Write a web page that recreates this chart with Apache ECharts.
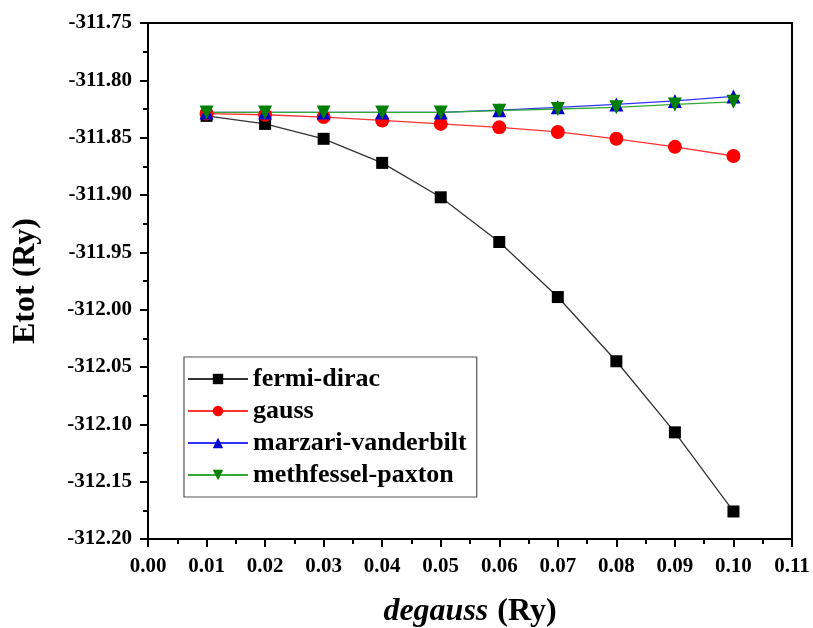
<!DOCTYPE html>
<html><head><meta charset="utf-8">
<script src="https://cdn.jsdelivr.net/npm/echarts@6/dist/echarts.min.js"></script>
<style>html,body{margin:0;padding:0;background:#fff}#c{width:813px;height:628px}</style>
</head><body><div id="c"></div>
<script>
const degauss = [0.01,0.02,0.03,0.04,0.05,0.06,0.07,0.08,0.09,0.10];
const fermiDirac = [-311.831,-311.838,-311.851,-311.872,-311.902,-311.941,-311.989,-312.045,-312.107,-312.176];
const gauss = [-311.829,-311.830,-311.832,-311.835,-311.838,-311.841,-311.845,-311.851,-311.858,-311.866];
const marzariVanderbilt = [-311.828,-311.828,-311.828,-311.828,-311.828,-311.826,-311.8235,-311.821,-311.818,-311.814];
const methfesselPaxton = [-311.828,-311.828,-311.828,-311.828,-311.828,-311.8265,-311.825,-311.8235,-311.821,-311.8187];
const seriesNames = ['fermi-dirac','gauss','marzari-vanderbilt','methfessel-paxton'];

const font = 'Liberation Serif';
const pair = a => degauss.map((x,i)=>[x,a[i]]);
const chart = echarts.init(document.getElementById('c'));
const axisLine = {show:true,onZero:false,lineStyle:{color:'#000',width:2}};
chart.setOption({
  animation:false,
  backgroundColor:'#fff',
  grid:{left:148,right:21,top:23,bottom:89,containLabel:false,outerBoundsMode:'none'},
  legend:{
    orient:'vertical', left:184, top:357,
    data:seriesNames,
    itemWidth:60, itemHeight:13, itemGap:6,
    padding:[9,10,9,3],
    borderColor:'#555', borderWidth:1.2,
    textStyle:{fontFamily:font,fontWeight:'bold',fontSize:26,color:'#000'}
  },
  xAxis:[{
    type:'value', min:0, max:0.11, interval:0.01,
    name:'{i|degauss}{n|(Ry)}', nameLocation:'middle', nameGap:57,
    nameTextStyle:{rich:{
      i:{fontFamily:font,fontWeight:'bold',fontStyle:'italic',fontSize:32,color:'#000'},
      n:{fontFamily:font,fontWeight:'bold',fontSize:32,color:'#000',padding:[0,0,0,9]}}},
    axisLine:axisLine,
    axisTick:{show:true,inside:false,length:8,lineStyle:{color:'#000',width:2}},
    minorTick:{show:true,splitNumber:2,length:5,lineStyle:{color:'#000',width:2}},
    axisLabel:{fontFamily:font,fontWeight:'bold',fontSize:21,color:'#000',margin:17,formatter:v=>v.toFixed(2)},
    splitLine:{show:false}
  },{
    type:'value', min:0, max:0.11, interval:0.01, position:'top',
    axisLine:axisLine, axisTick:{show:false}, axisLabel:{show:false}, splitLine:{show:false}
  }],
  yAxis:[{
    type:'value', min:-312.20, max:-311.75, interval:0.05,
    name:'Etot (Ry)', nameLocation:'middle', nameGap:106, nameRotate:90,
    nameTextStyle:{fontFamily:font,fontWeight:'bold',fontSize:32,color:'#000'},
    axisLine:axisLine,
    axisTick:{show:true,inside:false,length:8,lineStyle:{color:'#000',width:2}},
    minorTick:{show:true,splitNumber:2,length:5,lineStyle:{color:'#000',width:2}},
    axisLabel:{fontFamily:font,fontWeight:'bold',fontSize:21,color:'#000',margin:16,formatter:v=>v.toFixed(2)},
    splitLine:{show:false}
  },{
    type:'value', min:-312.20, max:-311.75, interval:0.05, position:'right',
    axisLine:axisLine, axisTick:{show:false}, axisLabel:{show:false}, splitLine:{show:false}
  }],
  series:[
    {name:seriesNames[0],type:'line',data:pair(fermiDirac),symbol:'rect',symbolSize:12,
     lineStyle:{color:'#333',width:1.3},itemStyle:{color:'#000'},color:'#000'},
    {name:seriesNames[1],type:'line',data:pair(gauss),symbol:'circle',symbolSize:14,
     lineStyle:{color:'#ff3333',width:1.3},itemStyle:{color:'#ff0000'},color:'#ff0000'},
    {name:seriesNames[2],type:'line',data:pair(marzariVanderbilt),symbol:'triangle',symbolSize:14,
     lineStyle:{color:'#3333ff',width:1.3},itemStyle:{color:'#0000cc'},color:'#0000cc'},
    {name:seriesNames[3],type:'line',data:pair(methfesselPaxton),symbol:'triangle',symbolRotate:180,symbolSize:14,
     lineStyle:{color:'#33aa33',width:1.3},itemStyle:{color:'#008000'},color:'#008000'}
  ]
});
</script></body></html>
